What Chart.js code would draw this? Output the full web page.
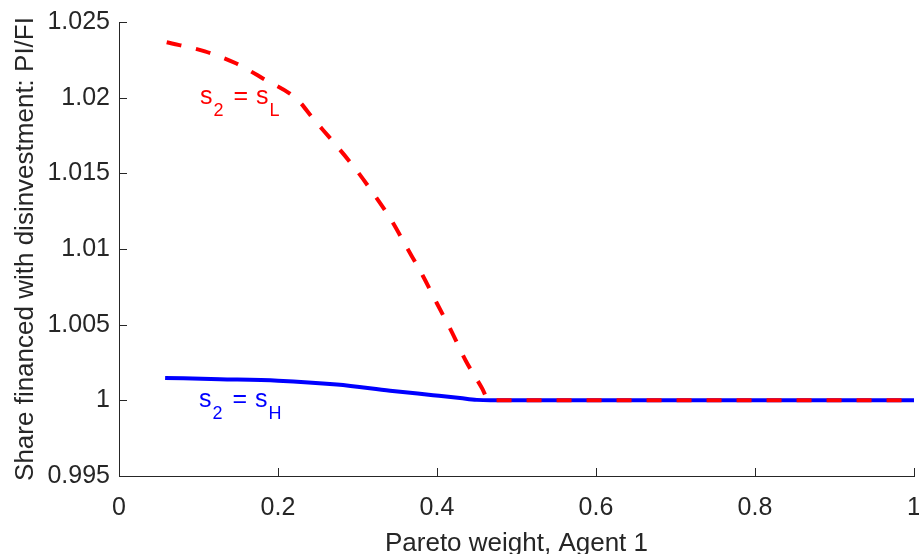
<!DOCTYPE html>
<html>
<head>
<meta charset="utf-8">
<script src="https://cdn.jsdelivr.net/npm/chart.js@4/dist/chart.umd.min.js"></script>
<style>
  html, body { margin: 0; padding: 0; background: #fff; }
  #wrap { width: 919px; height: 554px; position: relative; }
</style>
</head>
<body>
<div id="wrap"><canvas id="c"></canvas></div>
<script>
// ---- data ----
const xTicks = [0, 0.2, 0.4, 0.6, 0.8, 1];
const yTicks = [0.995, 1, 1.005, 1.01, 1.015, 1.02, 1.025];
const xTitle = 'Pareto weight, Agent 1';
const yTitle = 'Share financed with disinvestment: PI/FI';

// s2 = sL (red dashed)
const lowX = [0.060, 0.108, 0.147, 0.181, 0.224, 0.244, 0.270, 0.296, 0.319, 0.342, 0.362, 0.382, 0.400, 0.419, 0.436, 0.457, 0.465, 0.6, 0.8, 1.0];
const lowY = [1.02366, 1.02306, 1.02227, 1.02127, 1.01989, 1.01863, 1.01705, 1.01539, 1.01374, 1.01195, 1.0101, 1.00825, 1.0064, 1.00448, 1.00263, 1.00077, 1.0, 1.0, 1.0, 1.0];
// s2 = sH (blue solid)
const highX = [0.058, 0.127, 0.2, 0.274, 0.341, 0.395, 0.429, 0.45, 0.467, 0.6, 0.8, 1.0];
const highY = [1.00148, 1.0014, 1.0013, 1.00104, 1.00064, 1.00034, 1.00015, 1.00003, 1.0, 1.0, 1.0, 1.0];

const lowLabel = { x: 0.1019, y: 1.01956, color: '#ff0000', parts: [['s', 0], ['2', 1], [' = ', 0], ['s', 0], ['L', 1]] };
const highLabel = { x: 0.1006, y: 0.99958, color: '#0000ff', parts: [['s', 0], ['2', 1], [' = ', 0], ['s', 0], ['H', 1]] };

const FONT = '"Liberation Sans", Arial, Helvetica, sans-serif';
const TXT = '#262626';

const toPts = (xs, ys) => xs.map((x, i) => ({ x, y: ys[i] }));

const inwardTicks = {
  id: 'inwardTicks',
  afterDraw(chart) {
    const { ctx, chartArea: a, scales } = chart;
    ctx.save();
    ctx.strokeStyle = TXT;
    ctx.lineWidth = 1;
    ctx.beginPath();
    scales.x.ticks.forEach(t => {
      const px = Math.round(scales.x.getPixelForValue(t.value)) + 0.5;
      ctx.moveTo(px, a.bottom);
      ctx.lineTo(px, a.bottom - 8);
    });
    scales.y.ticks.forEach(t => {
      const py = Math.round(scales.y.getPixelForValue(t.value)) + 0.5;
      ctx.moveTo(a.left, py);
      ctx.lineTo(a.left + 8, py);
    });
    ctx.stroke();
    ctx.restore();
  }
};

const subLabels = {
  id: 'subLabels',
  afterDatasetsDraw(chart) {
    const { ctx, scales } = chart;
    [lowLabel, highLabel].forEach(l => {
      let px = scales.x.getPixelForValue(l.x);
      const py = scales.y.getPixelForValue(l.y);
      ctx.save();
      ctx.fillStyle = l.color;
      ctx.textBaseline = 'alphabetic';
      ctx.textAlign = 'left';
      l.parts.forEach(([s, sub]) => {
        ctx.font = (sub ? '18px ' : '25px ') + FONT;
        ctx.fillText(s, px, py + (sub ? 12 : 0));
        px += ctx.measureText(s).width + (sub ? 3 : 1);
      });
      ctx.restore();
    });
  }
};

new Chart(document.getElementById('c'), {
  type: 'line',
  data: {
    datasets: [
      {
        label: 's2 = sL',
        data: toPts(lowX, lowY),
        borderColor: '#ff0000',
        borderWidth: 4,
        borderDash: [15, 15],
        borderCapStyle: 'butt',
        pointRadius: 0,
        cubicInterpolationMode: 'monotone',
        fill: false,
        order: 0
      },
      {
        label: 's2 = sH',
        data: toPts(highX, highY),
        borderColor: '#0000ff',
        borderWidth: 4,
        pointRadius: 0,
        cubicInterpolationMode: 'monotone',
        fill: false,
        order: 1
      }
    ]
  },
  options: {
    responsive: true,
    maintainAspectRatio: false,
    animation: false,
    devicePixelRatio: 1,
    layout: { padding: { top: 22, right: 5, left: 0, bottom: 0 } },
    plugins: { legend: { display: false }, tooltip: { enabled: false } },
    scales: {
      x: {
        type: 'linear',
        min: 0, max: 1,
        afterBuildTicks: s => { s.ticks = xTicks.map(v => ({ value: v })); },
        afterFit: s => { s.height = 78; s.paddingRight = 0; s.paddingLeft = 0; },
        ticks: {
          color: TXT,
          font: { family: FONT, size: 25 },
          padding: 17,
          maxRotation: 0,
          callback: v => String(v)
        },
        grid: { display: false, drawTicks: false },
        border: { display: true, color: TXT, width: 1 },
        title: {
          display: true,
          text: xTitle,
          color: TXT,
          font: { family: FONT, size: 26 },
          padding: { top: 0, bottom: -5 }
        }
      },
      y: {
        type: 'linear',
        min: 0.995, max: 1.025,
        afterBuildTicks: s => { s.ticks = yTicks.map(v => ({ value: v })); },
        afterFit: s => { s.width = 119; s.paddingTop = 0; s.paddingBottom = 0; },
        ticks: {
          color: TXT,
          font: { family: FONT, size: 25 },
          padding: 9,
          callback: v => String(v)
        },
        grid: { display: false, drawTicks: false },
        border: { display: true, color: TXT, width: 1 },
        title: {
          display: true,
          text: yTitle,
          color: TXT,
          font: { family: FONT, size: 26 },
          padding: { top: 10, bottom: 0 }
        }
      }
    }
  },
  plugins: [inwardTicks, subLabels]
});
</script>
</body>
</html>
